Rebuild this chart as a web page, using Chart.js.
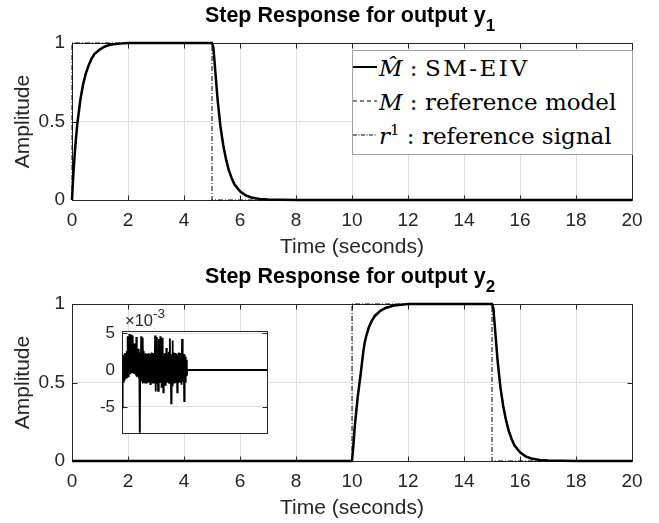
<!DOCTYPE html>
<html><head><meta charset="utf-8">
<script src="https://cdn.jsdelivr.net/npm/chart.js@4.4.1/dist/chart.umd.min.js"></script>
<style>
html,body{margin:0;padding:0;background:#fff;}
#wrap{position:relative;width:659px;height:523px;overflow:hidden;background:#fff;}
canvas{position:absolute;}
#c1{left:0;top:0;}
#c2{left:0;top:261px;}
#c3{left:80px;top:300px;}
.ttl{position:absolute;left:0;width:700px;text-align:center;font-family:'Liberation Sans',Arial,sans-serif;font-weight:bold;font-size:21.5px;line-height:26px;color:#000;white-space:nowrap;}
.ttl .sb{font-size:17px;position:relative;top:9px;}
.legend{position:absolute;left:352px;top:50px;width:281px;height:105px;box-sizing:border-box;border:1px solid #a0a0a0;background:#fff;font-family:'DejaVu Serif',serif;font-size:23px;color:#000;}
.row{position:absolute;left:0;height:30px;line-height:30px;white-space:nowrap;width:279px;}
.row svg{position:absolute;left:0;top:0;}
.row .txt{position:absolute;left:26px;top:0;}
.it{font-style:italic;}
.exp{position:absolute;left:125px;top:311px;font-family:'Liberation Sans',Arial,sans-serif;font-size:16.5px;line-height:18px;color:#262626;white-space:nowrap;}
.exp .sp{font-size:13.5px;position:relative;top:-8px;}
</style>
</head><body>
<div id="wrap">
  <canvas id="c1" width="659" height="261"></canvas>
  <canvas id="c2" width="659" height="261"></canvas>
  <canvas id="c3" width="200" height="150"></canvas>
  <div class="ttl" style="top:2px">Step Response for output y<span class="sb">1</span></div>
  <div class="ttl" style="top:263px">Step Response for output y<span class="sb">2</span></div>
  <div class="legend">
    <div class="row" style="top:2px">
      <svg width="25" height="30"><line x1="0" y1="14" x2="24" y2="14" stroke="#000" stroke-width="2"/></svg>
      <span class="txt"><span class="it">M&#770;</span> : <span style="letter-spacing:2.5px">SM-EIV</span></span>
    </div>
    <div class="row" style="top:36px">
      <svg width="25" height="30"><line x1="0" y1="14" x2="24" y2="14" stroke="#000" stroke-width="1" stroke-dasharray="4,3"/></svg>
      <span class="txt"><span class="it">M</span> : reference model</span>
    </div>
    <div class="row" style="top:70px">
      <svg width="25" height="30"><line x1="0" y1="14" x2="24" y2="14" stroke="#000" stroke-width="1" stroke-dasharray="4,1.5,1,1.5"/></svg>
      <span class="txt"><span class="it">r</span><span style="font-size:15px;position:relative;top:-9px">1</span> : reference signal</span>
    </div>
  </div>
  <div class="exp">×10<span class="sp">-3</span></div>
</div>
<script>
// ---------- data ----------
// output y1 (time in seconds)
const t1 = [0,0.05,0.1,0.15,0.2,0.3,0.4,0.5,0.6,0.7,0.8,1.0,1.2,1.4,1.7,2.0,3.0,4.0,5.0,5.05,5.1,5.2,5.3,5.4,5.5,5.6,5.7,5.8,6.0,6.2,6.4,6.7,7.0,8.0,10,12,14,16,18,20];
const y1SMEIV = [0,0.17,0.30,0.41,0.50,0.64,0.74,0.81,0.86,0.90,0.93,0.96,0.98,0.99,0.996,1,1,1,1,0.97,0.86,0.64,0.47,0.35,0.26,0.19,0.14,0.10,0.055,0.03,0.016,0.007,0.003,0,0,0,0,0,0,0];
const y1Model = [0,0.16,0.29,0.40,0.49,0.63,0.73,0.80,0.86,0.90,0.93,0.955,0.975,0.988,0.995,1,1,1,1,0.97,0.87,0.65,0.48,0.36,0.27,0.20,0.145,0.105,0.058,0.032,0.017,0.008,0.003,0,0,0,0,0,0,0];
const r1T = [0,0,5,5,20];
const r1Y = [0,1,1,0,0];
// output y2
const t2 = [0,10,10.05,10.1,10.2,10.27,10.3,10.4,10.45,10.5,10.6,10.7,10.8,11.0,11.2,11.5,12,13,14,15,15.05,15.1,15.2,15.3,15.4,15.5,15.6,15.7,15.8,16.0,16.2,16.4,16.7,17,18,20];
const y2SMEIV = [0,0,0.10,0.22,0.40,0.50,0.54,0.69,0.75,0.79,0.85,0.89,0.92,0.955,0.975,0.99,1,1,1,1,0.97,0.86,0.64,0.47,0.35,0.26,0.19,0.14,0.10,0.055,0.03,0.016,0.007,0.003,0,0];
const y2Model = [0,0,0.11,0.23,0.41,0.51,0.55,0.70,0.75,0.80,0.86,0.90,0.93,0.96,0.978,0.99,1,1,1,1,0.97,0.87,0.65,0.48,0.36,0.27,0.20,0.145,0.105,0.058,0.032,0.017,0.008,0.003,0,0];
const r2T = [0,10,10,15,15,20];
const r2Y = [0,0,1,1,0,0];
// inset: SM-EIV output y2 before the step, values in units of 1e-3, sampled every 0.03 s from t = 0
const insetDt = 0.03;
const insetNoise = [
 -5.1,1.6,-1.9,2.1,-1.7,1.8,-1.4,2.3,-1.2,2.0,-1.0,2.6,-0.9,4.6,-0.8,3.0,-0.7,4.9,-0.6,2.5,-0.5,4.8,-0.4,3.2,-0.3,4.7,-0.3,2.8,-0.4,3.6,-0.3,2.6,-0.5,4.5,-0.7,2.4,-0.9,2.9,-1.1,2.2,-1.4,
 -9.5,
 2.4,-1.5,4.6,-1.4,2.2,-1.8,4.4,-1.2,2.6,-1.6,2.0,-1.7,2.3,-1.3,1.9,-1.8,2.2,-1.5,
 2.1,-1.7,2.3,-1.6,1.8,-1.9,2.2,-1.4,2.4,-1.7,2.0,-1.5,2.3,-1.8,2.1,-1.6,4.7,-2.9,
 2.5,-1.6,4.5,-1.8,2.2,-2.8,4.2,-1.4,2.6,-1.7,4.6,-1.5,2.3,-2.4,4.4,-1.6,2.0,-3.0,
 1.9,-1.5,2.3,-2.0,2.2,-1.4,3.0,-1.7,2.0,-1.6,2.1,-1.8,2.5,-1.5,4.3,-1.8,2.2,-4.5,
 1.9,-1.6,4.0,-2.2,2.4,-1.5,2.1,-1.8,2.3,-1.4,2.0,-1.6,2.2,-3.0,1.9,-1.6,2.4,-1.5,
 2.0,-1.7,2.3,-1.4,1.8,-2.0,4.2,-1.6,1.9,-1.5,2.2,-4.2,2.1,-1.6,1.8,-1.2,1.4,-0.8,
 0
];
const insetFlatT = [4.5,10];
const insetFlatV = [0,0];
const insetTicks = [-5,0,5];
const xTicks = [0,2,4,6,8,10,12,14,16,18,20];
const yTicks = [0,0.5,1];

// ---------- helpers ----------
const fontSans = "'Liberation Sans', Arial, Helvetica, sans-serif";
const pts = (xs, ys) => xs.map((x,i)=>({x:x, y:ys[i]}));
const plainLabel = v => String(v);

const matlabAxes = {
  id:'matlabAxes',
  beforeDraw(chart, args, opts){
    if(!opts.fill) return;
    const {ctx, chartArea:a} = chart;
    ctx.save(); ctx.fillStyle='#fff';
    ctx.fillRect(a.left, a.top, a.right-a.left, a.bottom-a.top);
    ctx.restore();
  },
  beforeDatasetsDraw(chart, args, opts){
    const {ctx, chartArea:a, scales} = chart;
    const L=Math.round(a.left)+0.5, R=Math.round(a.right)+0.5, T=Math.round(a.top)+0.5, B=Math.round(a.bottom)+0.5;
    ctx.save();
    ctx.strokeStyle='#262626'; ctx.lineWidth=1;
    ctx.strokeRect(L, T, R-L, B-T);
    const len=5;
    ctx.beginPath();
    if(opts.xTicks !== false){
      scales.x.ticks.forEach(tk=>{
        const p=Math.round(scales.x.getPixelForValue(tk.value))+0.5;
        ctx.moveTo(p,B); ctx.lineTo(p,B-len);
        ctx.moveTo(p,T); ctx.lineTo(p,T+len);
      });
    }
    scales.y.ticks.forEach(tk=>{
      const p=Math.round(scales.y.getPixelForValue(tk.value))+0.5;
      ctx.moveTo(L,p); ctx.lineTo(L+len,p);
      ctx.moveTo(R,p); ctx.lineTo(R-len,p);
    });
    ctx.stroke();
    ctx.restore();
  }
};
Chart.register(matlabAxes);

function mainConfig(sm, model, ref){
  return {
    type:'line',
    data:{datasets:[
      {label:'SM-EIV', data:sm, borderColor:'#000', borderWidth:2.5, pointRadius:0, tension:0, fill:false, order:3, clip:3},
      {label:'reference model', data:model, borderColor:'#000', borderWidth:1, borderDash:[4,3], pointRadius:0, tension:0, fill:false, order:2, clip:3},
      {label:'reference signal', data:ref, borderColor:'#000', borderWidth:1, borderDash:[5,2,1,2], pointRadius:0, tension:0, fill:false, order:1, clip:3}
    ]},
    options:{
      responsive:false, animation:false, events:[],
      layout:{padding:{left:0,right:27,top:43,bottom:0}},
      plugins:{
        legend:{display:false}, tooltip:{enabled:false}, title:{display:false},
        matlabAxes:{fill:false}
      },
      scales:{
        x:{type:'linear', min:0, max:20,
          afterBuildTicks(s){ s.ticks = xTicks.map(v=>({value:v})); },
          ticks:{color:'#262626', font:{family:fontSans,size:19}, padding:9, maxRotation:0, autoSkip:false, callback:plainLabel},
          grid:{color:'#dfdfdf', drawTicks:false}, border:{display:false},
          title:{display:true, text:'Time (seconds)', color:'#262626', font:{family:fontSans,size:21}, padding:{top:0,bottom:1}},
          afterFit(s){ s.height = 61; }
        },
        y:{type:'linear', min:0, max:1,
          afterBuildTicks(s){ s.ticks = yTicks.map(v=>({value:v})); },
          ticks:{color:'#262626', font:{family:fontSans,size:19}, padding:7, callback:plainLabel},
          grid:{color:'#dfdfdf', drawTicks:false}, border:{display:false},
          title:{display:true, text:'Amplitude', color:'#262626', font:{family:fontSans,size:21}, padding:{top:10.5,bottom:0}},
          afterFit(s){ s.width = 72; }
        }
      }
    }
  };
}

new Chart(document.getElementById('c1'), mainConfig(pts(t1,y1SMEIV), pts(t1,y1Model), pts(r1T,r1Y)));
new Chart(document.getElementById('c2'), mainConfig(pts(t2,y2SMEIV), pts(t2,y2Model), pts(r2T,r2Y)));

const insetPts = insetNoise.map((v,i)=>({x: +(i*insetDt).toFixed(3), y: v}));
new Chart(document.getElementById('c3'), {
  type:'line',
  data:{datasets:[
    {data:insetPts, borderColor:'#000', borderWidth:1.8, pointRadius:0, tension:0, fill:false},
    {data:pts(insetFlatT, insetFlatV), borderColor:'#000', borderWidth:2, pointRadius:0, tension:0, fill:false}
  ]},
  options:{
    responsive:false, animation:false, events:[],
    layout:{padding:{left:0,right:13,top:31,bottom:9}},
    plugins:{legend:{display:false}, tooltip:{enabled:false}, matlabAxes:{fill:true, xTicks:false}},
    scales:{
      x:{type:'linear', min:0, max:10, display:false},
      y:{type:'linear', min:-8.5, max:5.3,
        afterBuildTicks(s){ s.ticks = insetTicks.map(v=>({value:v})); },
        ticks:{color:'#262626', font:{family:fontSans,size:17}, padding:7, callback:plainLabel},
        grid:{color:'#dfdfdf', drawTicks:false}, border:{display:false},
        afterFit(s){ s.width = 42; }
      }
    }
  }
});
</script>
</body></html>
